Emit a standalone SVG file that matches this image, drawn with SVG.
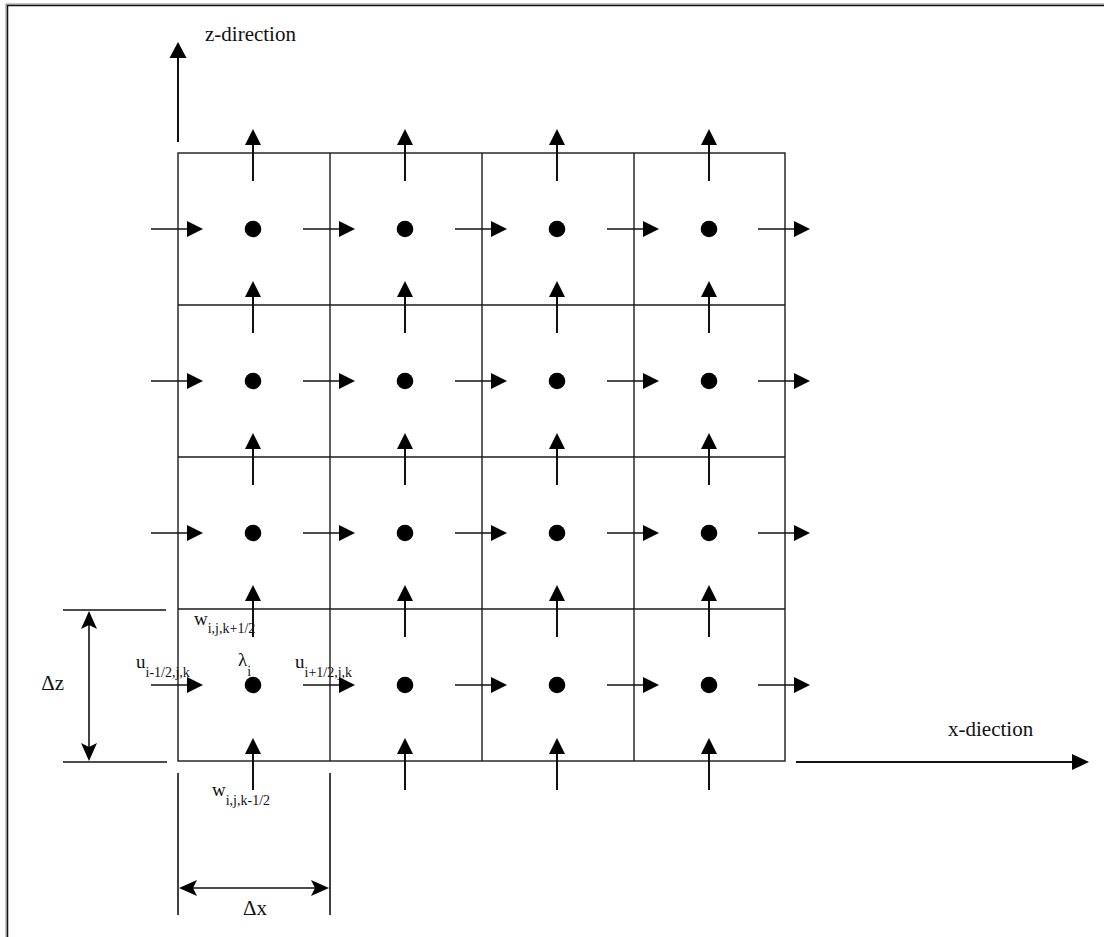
<svg xmlns="http://www.w3.org/2000/svg" xmlns:xlink="http://www.w3.org/1999/xlink" width="1104" height="937" viewBox="0 0 1104 937">
<style>
.grid{fill:none;stroke:#1a1a1a;stroke-width:1.4}
.al{stroke:#111;stroke-width:2}
.hl{stroke:#111;stroke-width:1.4}
.head{fill:#000}
.dot{fill:#000}
.t{font-family:"Liberation Serif","Times New Roman",serif;fill:#111}
.lbl{font-size:19px}
.sub{font-size:14px}
.ax{font-size:21px}
.dim{stroke:#111;stroke-width:1.6}
</style>
<defs>
<g id="va"><line class="al" x1="0" y1="28" x2="0" y2="-10"/><polygon class="head" points="0,-24 -8,-8 8,-8"/></g>
<g id="ha"><line class="hl" x1="-27" y1="0" x2="10" y2="0"/><polygon class="head" points="25,0 9,-8 9,8"/></g>
<path id="dh" class="head" d="M0,0 L-8,18 L0,14 L8,18 Z"/>
</defs>
<rect width="1104" height="937" fill="#fff"/>
<g id="frame"><path d="M6,937 V4 H1104" fill="none" stroke="#888" stroke-width="1"/><path d="M7.5,937 V5.5 H1104" fill="none" stroke="#111" stroke-width="1.5"/></g>
<g id="grid">
<rect class="grid" x="178" y="153" width="607" height="608"/>
<line class="grid" x1="330" y1="153" x2="330" y2="761"/>
<line class="grid" x1="482" y1="153" x2="482" y2="761"/>
<line class="grid" x1="634" y1="153" x2="634" y2="761"/>
<line class="grid" x1="178" y1="305" x2="785" y2="305"/>
<line class="grid" x1="178" y1="457" x2="785" y2="457"/>
<line class="grid" x1="178" y1="609" x2="785" y2="609"/>
</g>
<g id="nodes">
<circle class="dot" cx="253" cy="229" r="8.3"/><circle class="dot" cx="405" cy="229" r="8.3"/><circle class="dot" cx="557" cy="229" r="8.3"/><circle class="dot" cx="709" cy="229" r="8.3"/>
<circle class="dot" cx="253" cy="381" r="8.3"/><circle class="dot" cx="405" cy="381" r="8.3"/><circle class="dot" cx="557" cy="381" r="8.3"/><circle class="dot" cx="709" cy="381" r="8.3"/>
<circle class="dot" cx="253" cy="533" r="8.3"/><circle class="dot" cx="405" cy="533" r="8.3"/><circle class="dot" cx="557" cy="533" r="8.3"/><circle class="dot" cx="709" cy="533" r="8.3"/>
<circle class="dot" cx="253" cy="685" r="8.3"/><circle class="dot" cx="405" cy="685" r="8.3"/><circle class="dot" cx="557" cy="685" r="8.3"/><circle class="dot" cx="709" cy="685" r="8.3"/>
</g>
<g id="connectors">
<use href="#va" x="253" y="153"/><use href="#va" x="405" y="153"/><use href="#va" x="557" y="153"/><use href="#va" x="709" y="153"/>
<use href="#va" x="253" y="305"/><use href="#va" x="405" y="305"/><use href="#va" x="557" y="305"/><use href="#va" x="709" y="305"/>
<use href="#va" x="253" y="457"/><use href="#va" x="405" y="457"/><use href="#va" x="557" y="457"/><use href="#va" x="709" y="457"/>
<use href="#va" x="253" y="609"/><use href="#va" x="405" y="609"/><use href="#va" x="557" y="609"/><use href="#va" x="709" y="609"/>
<use href="#va" x="253" y="762"/><use href="#va" x="405" y="762"/><use href="#va" x="557" y="762"/><use href="#va" x="709" y="762"/>
<use href="#ha" x="178" y="229"/><use href="#ha" x="330" y="229"/><use href="#ha" x="482" y="229"/><use href="#ha" x="634" y="229"/><use href="#ha" x="785" y="229"/>
<use href="#ha" x="178" y="381"/><use href="#ha" x="330" y="381"/><use href="#ha" x="482" y="381"/><use href="#ha" x="634" y="381"/><use href="#ha" x="785" y="381"/>
<use href="#ha" x="178" y="533"/><use href="#ha" x="330" y="533"/><use href="#ha" x="482" y="533"/><use href="#ha" x="634" y="533"/><use href="#ha" x="785" y="533"/>
<use href="#ha" x="178" y="685"/><use href="#ha" x="330" y="685"/><use href="#ha" x="482" y="685"/><use href="#ha" x="634" y="685"/><use href="#ha" x="785" y="685"/>
</g>
<g id="z-axis">
<line class="al" x1="178" y1="142" x2="178" y2="54"/><polygon class="head" points="178,42 169.5,58 186.5,58"/>
<text class="t ax" x="205" y="41">z-direction</text>
</g>
<g id="x-axis">
<line class="al" x1="796" y1="762" x2="1076" y2="762"/><polygon class="head" points="1089,762 1072,754 1072,770"/>
<text class="t ax" x="948" y="736">x-diection</text>
</g>
<g id="dz">
<line class="dim" x1="63" y1="610" x2="166" y2="610"/>
<line class="dim" x1="63" y1="762" x2="167" y2="762"/>
<line class="dim" x1="89" y1="620" x2="89" y2="752"/>
<use href="#dh" transform="translate(89,611)"/>
<use href="#dh" transform="translate(89,761) rotate(180)"/>
<text class="t ax" x="64" y="690" text-anchor="end">Δz</text>
</g>
<g id="dx">
<line class="dim" x1="178" y1="773" x2="178" y2="915"/>
<line class="dim" x1="330" y1="773" x2="330" y2="915"/>
<line class="dim" x1="188" y1="888" x2="320" y2="888"/>
<use href="#dh" transform="translate(179,888) rotate(-90)"/>
<use href="#dh" transform="translate(329,888) rotate(90)"/>
<text class="t ax" x="243" y="915">Δx</text>
</g>
<g id="labels">
<text class="t lbl" x="194" y="625">w<tspan class="sub" dy="8">i,j,k+1/2</tspan></text>
<text class="t lbl" x="136" y="668">u<tspan class="sub" dy="9">i-1/2,j,k</tspan></text>
<text class="t lbl" x="238" y="666">λ<tspan class="sub" dy="10">i</tspan></text>
<text class="t lbl" x="295" y="668">u<tspan class="sub" dy="9">i+1/2,j,k</tspan></text>
<text class="t lbl" x="212" y="796">w<tspan class="sub" dy="9">i,j,k-1/2</tspan></text>
</g>
</svg>
